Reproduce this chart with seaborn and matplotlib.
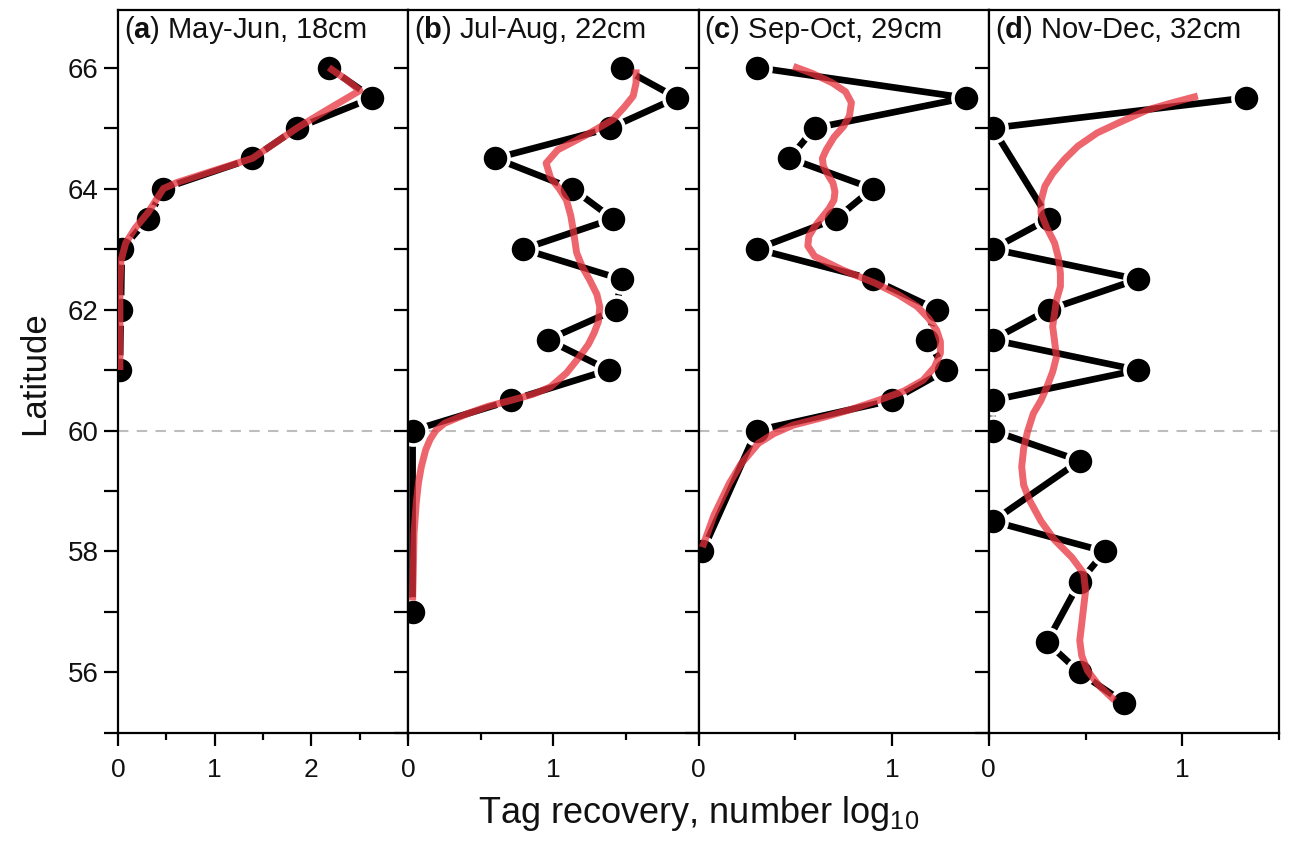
import numpy as np
import pandas as pd
import seaborn as sns
import matplotlib.pyplot as plt
from matplotlib.ticker import FixedLocator, MultipleLocator

# 1. DATA
# black dots: tag recovery (log10) per latitude band
lat_a = [66, 65.5, 65, 64.5, 64, 63.5, 63, 62, 61]
rec_a = [2.18, 2.63, 1.85, 1.39, 0.47, 0.31, 0.04, 0.03, 0.02]

lat_b = [66, 65.5, 65, 64.5, 64, 63.5, 63, 62.5, 62, 61.5, 61, 60.5, 60, 57]
rec_b = [1.47, 1.85, 1.39, 0.60, 1.13, 1.41, 0.79, 1.47, 1.43, 0.96, 1.38, 0.71, 0.03, 0.03]

lat_c = [66, 65.5, 65, 64.5, 64, 63.5, 63, 62.5, 62, 61.5, 61, 60.5, 60, 58]
rec_c = [0.30, 1.38, 0.60, 0.47, 0.90, 0.71, 0.30, 0.90, 1.23, 1.18, 1.28, 1.00, 0.30, 0.02]

lat_d = [65.5, 65, 63.5, 63, 62.5, 62, 61.5, 61, 60.5, 60, 59.5, 58.5, 58, 57.5, 56.5, 56, 55.5]
rec_d = [1.33, 0.02, 0.31, 0.02, 0.77, 0.31, 0.02, 0.77, 0.02, 0.02, 0.47, 0.02, 0.60, 0.47, 0.30, 0.47, 0.70]

# red smoothed curves
fit_lat_a = [66.0, 65.8, 65.62, 65.3, 65.0, 64.75, 64.5, 64.25, 64.1, 64.0, 63.8, 63.6, 63.35, 63.1, 62.8, 62.4, 62.0, 61.5, 61.0]
fit_a = [2.18, 2.36, 2.50, 2.16, 1.85, 1.62, 1.39, 0.90, 0.61, 0.47, 0.39, 0.31, 0.18, 0.08, 0.03, 0.02, 0.02, 0.02, 0.02]

fit_lat_b = [65.97, 65.75, 65.53, 65.35, 65.14, 64.89, 64.64, 64.42, 64.18, 64.0, 63.81, 63.55, 63.27, 62.94,
             62.7, 62.49, 62.25, 62.04, 61.8, 61.61, 61.42, 61.22, 60.95, 60.72, 60.6, 60.5, 60.4, 60.28, 60.12,
             60.0, 59.85, 59.68, 59.4, 59.13, 58.8, 58.3, 57.7, 57.19]
fit_b = [1.57, 1.57, 1.55, 1.49, 1.41, 1.23, 1.03, 0.95, 0.98, 1.04, 1.09, 1.12, 1.14, 1.16,
         1.20, 1.25, 1.30, 1.32, 1.31, 1.28, 1.24, 1.18, 1.09, 0.98, 0.86, 0.71, 0.55, 0.41, 0.25,
         0.19, 0.15, 0.12, 0.09, 0.07, 0.055, 0.04, 0.035, 0.03]

fit_lat_c = [66.02, 65.9, 65.75, 65.6, 65.42, 65.2, 65.03, 64.85, 64.64, 64.5, 64.37, 64.22, 64.09, 63.95, 63.81,
             63.67, 63.53, 63.37, 63.21, 63.05, 62.88, 62.66, 62.44, 62.25, 62.05, 61.85, 61.66, 61.47, 61.28,
             61.05, 60.83, 60.65, 60.5, 60.35, 60.23, 60.09, 59.95, 59.79, 59.45, 59.13, 58.6, 58.07]
fit_c = [0.49, 0.59, 0.69, 0.76, 0.79, 0.78, 0.75, 0.70, 0.66, 0.64, 0.645, 0.67, 0.695, 0.705, 0.70,
         0.675, 0.64, 0.60, 0.57, 0.565, 0.60, 0.74, 0.91, 1.03, 1.13, 1.19, 1.23, 1.25, 1.25,
         1.22, 1.16, 1.06, 0.93, 0.79, 0.66, 0.49, 0.39, 0.31, 0.22, 0.16, 0.08, 0.02]

fit_lat_d = [65.53, 65.42, 65.3, 65.1, 64.92, 64.7, 64.48, 64.25, 64.04, 63.8, 63.59, 63.35, 63.1, 62.85, 62.6,
             62.38, 62.16, 61.94, 61.72, 61.47, 61.22, 60.97, 60.72, 60.5, 60.28, 59.98, 59.7, 59.4, 59.1,
             58.85, 58.5, 58.19, 57.9, 57.64, 57.35, 57.08, 56.8, 56.53, 56.28, 56.03, 55.78, 55.54]
fit_d = [1.08, 0.95, 0.82, 0.68, 0.56, 0.46, 0.39, 0.33, 0.29, 0.27, 0.27, 0.30, 0.34, 0.36, 0.37,
         0.37, 0.35, 0.34, 0.33, 0.34, 0.35, 0.33, 0.30, 0.27, 0.23, 0.20, 0.18, 0.17, 0.18,
         0.21, 0.27, 0.34, 0.43, 0.49, 0.50, 0.49, 0.48, 0.47, 0.48, 0.51, 0.57, 0.65]

labels = ['a', 'b', 'c', 'd']
periods = ['May-Jun, 18cm', 'Jul-Aug, 22cm', 'Sep-Oct, 29cm', 'Nov-Dec, 32cm']
xmax = [3.0, 2.0, 1.5, 1.5]
xticks = [[0, 1, 2], [0, 1], [0, 1], [0, 1]]

dots = [(lat_a, rec_a), (lat_b, rec_b), (lat_c, rec_c), (lat_d, rec_d)]
fits = [(fit_lat_a, fit_a), (fit_lat_b, fit_b), (fit_lat_c, fit_c), (fit_lat_d, fit_d)]

# 2. STYLE
sns.set_style('ticks')
plt.rcParams['font.family'] = ['Liberation Sans', 'DejaVu Sans']
plt.rcParams['mathtext.fontset'] = 'custom'
plt.rcParams['mathtext.rm'] = 'Liberation Sans'
plt.rcParams['mathtext.bf'] = 'Liberation Sans:bold'
plt.rcParams['text.color'] = '#111111'

fig, axes = plt.subplots(1, 4, figsize=(12.92, 8.42), dpi=100, sharey=True)
fig.subplots_adjust(left=0.0913, right=0.990, top=0.988, bottom=0.1295, wspace=0)

# 3. PANELS
for i, ax in enumerate(axes):
    lat, rec = dots[i]
    flat, fval = fits[i]
    df = pd.DataFrame({'lat': lat, 'rec': rec})
    dfit = pd.DataFrame({'lat': flat, 'rec': fval})

    ax.axhline(60, color='#bdbdbd', lw=1.5, ls=(0, (5, 4)), zorder=0)
    sns.lineplot(data=df, x='rec', y='lat', sort=False, estimator=None, ax=ax,
                 color='black', lw=4.8, marker='o', markersize=19.5,
                 markeredgecolor='white', markeredgewidth=2.6, zorder=2)
    sns.lineplot(data=dfit, x='rec', y='lat', sort=False, estimator=None, ax=ax,
                 color='#e8323c', alpha=0.75, lw=5, zorder=3,
                 solid_capstyle='butt', solid_joinstyle='round')

    ax.set_xlim(0, xmax[i])
    ax.set_ylim(55, 66.95)
    ax.xaxis.set_major_locator(FixedLocator(xticks[i]))
    ax.xaxis.set_minor_locator(MultipleLocator(0.5))
    ax.yaxis.set_major_locator(MultipleLocator(2))
    ax.yaxis.set_minor_locator(MultipleLocator(1))
    ax.tick_params(axis='x', which='major', direction='out', length=9, width=1.6,
                   labelsize=19, pad=9, color='black', labelcolor='#111111')
    ax.tick_params(axis='x', which='minor', direction='out', length=5, width=1.6, color='black')
    ax.tick_params(axis='y', which='both', direction='out', length=10, width=1.6,
                   labelsize=20, pad=4, color='black', labelcolor='#111111')
    if i > 0:
        ax.tick_params(axis='y', labelleft=False)
    for s in ax.spines.values():
        s.set_visible(True)
        s.set_linewidth(1.6)
        s.set_color('black')
    ax.set_xlabel('')
    ax.set_ylabel('')
    ax.text(0.02, 0.995, r'($\mathbf{' + labels[i] + r'}$) ' + periods[i],
            transform=ax.transAxes, ha='left', va='top', fontsize=21)

fig.text(0.541, 0.034, r'Tag recovery, number log$_{10}$', ha='center', va='center', fontsize=26)
fig.text(0.027, 0.557, 'Latitude', rotation=90, ha='center', va='center', fontsize=25)

plt.savefig('out.png', dpi=100)
